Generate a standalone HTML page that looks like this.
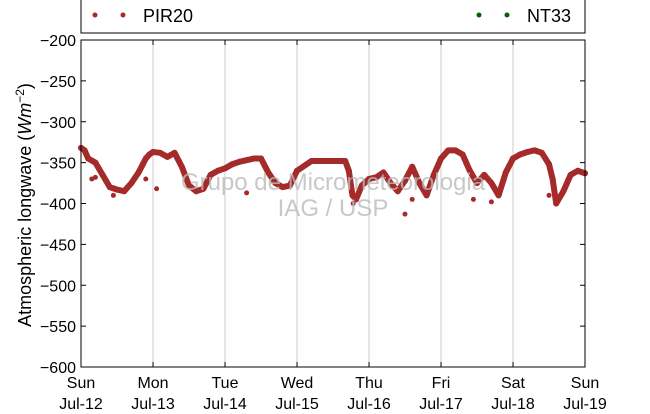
<!DOCTYPE html>
<html><head><meta charset="utf-8"><style>
body{margin:0;background:#fff;}
svg text{font-family:"Liberation Sans","DejaVu Sans",sans-serif;}
</style></head><body>
<svg id="chart" width="650" height="409" viewBox="0 0 650 409" xmlns="http://www.w3.org/2000/svg">
<g id="grid"></g>
<g id="series"></g>
<g fill="#bbb" opacity="0.8" font-size="24" text-anchor="middle">
<text x="333" y="190">Grupo de Micrometeorologia</text>
<text x="333" y="216">IAG / USP</text>
</g>
<rect x="81" y="40" width="504" height="327" fill="none" stroke="#000" stroke-width="1"/>
<g id="yticks"></g>
<g id="xticks"></g>
<text transform="translate(31,205) rotate(-90)" text-anchor="middle" font-size="18">Atmospheric longwave (<tspan font-style="italic">Wm</tspan><tspan font-size="12" dy="-7">−2</tspan><tspan dy="7">)</tspan></text>
<g>
<rect x="81" y="-5" width="504" height="38" fill="#fff" stroke="#000"/>
<g><circle cx="95" cy="15" r="2.5" fill="#a52a2a"/><circle cx="123" cy="15" r="2.5" fill="#a52a2a"/><text x="143" y="22" font-size="18">PIR20</text></g>
<g><circle cx="479" cy="15" r="2.5" fill="#006400"/><circle cx="507" cy="15" r="2.5" fill="#006400"/><text x="527" y="22" font-size="18">NT33</text></g>
</g>
</svg>
<script>
const times=[0,0.05,0.1,0.2,0.3,0.4,0.5,0.6,0.7,0.8,0.9,0.95,1.0,1.1,1.2,1.3,1.4,1.5,1.6,1.7,1.8,1.9,2.0,2.1,2.2,2.3,2.4,2.5,2.6,2.7,2.8,2.9,3.0,3.2,3.4,3.6,3.67,3.72,3.77,3.82,3.9,4.0,4.1,4.2,4.3,4.4,4.5,4.6,4.7,4.8,4.9,5.0,5.05,5.1,5.2,5.3,5.35,5.4,5.5,5.6,5.7,5.8,5.9,6.0,6.1,6.2,6.3,6.4,6.5,6.55,6.6,6.7,6.8,6.9,7.0];
const values=[-332,-335,-345,-350,-365,-380,-383,-385,-375,-362,-345,-340,-337,-338,-343,-338,-355,-378,-385,-382,-365,-360,-357,-352,-349,-347,-345,-345,-362,-375,-380,-378,-360,-348,-348,-348,-348,-360,-390,-395,-378,-370,-368,-362,-375,-385,-372,-355,-375,-390,-365,-345,-340,-335,-335,-340,-350,-360,-375,-365,-375,-390,-362,-345,-340,-337,-335,-338,-352,-370,-400,-385,-365,-360,-363];
const outlierTimes=[0.15,0.2,0.45,0.9,1.05,2.3,3.78,4.5,4.6,5.45,5.7,6.5,6.62];
const outlierValues=[-370,-368,-390,-370,-382,-387,-400,-413,-395,-395,-398,-390,-398];
const yTicks=[-200,-250,-300,-350,-400,-450,-500,-550,-600];
const dayLabels=["Sun","Mon","Tue","Wed","Thu","Fri","Sat","Sun"];
const dateLabels=["Jul-12","Jul-13","Jul-14","Jul-15","Jul-16","Jul-17","Jul-18","Jul-19"];
const NS="http://www.w3.org/2000/svg";
const X=d=>81+d*72;
const Y=v=>40+(-200-v)/400*327;
const grid=document.getElementById('grid'),ser=document.getElementById('series'),yt=document.getElementById('yticks'),xt=document.getElementById('xticks');
function mk(tag,attrs,parent){const e=document.createElementNS(NS,tag);for(const k in attrs)e.setAttribute(k,attrs[k]);parent.appendChild(e);return e;}
dayLabels.forEach((d,i)=>{
 const x=X(i);
 if(i>0&&i<7){const g=mk('line',{x1:x,x2:x,y1:40,y2:367,stroke:'#ccc','stroke-width':1},grid);
 
 }
 const t=mk('text',{x:x,y:388,'text-anchor':'middle','font-size':16},xt);t.textContent=d;
 
 
 const t2=mk('text',{x:x,y:409,'text-anchor':'middle','font-size':16},xt);t2.textContent=dateLabels[i];
 
 
 mk('line',{x1:x,x2:x,y1:367,y2:362,stroke:'#000'},xt);
 mk('line',{x1:x,x2:x,y1:40,y2:45,stroke:'#000'},xt);
});
yTicks.forEach(v=>{
 const y=Y(v);
 const t=mk('text',{x:76,y:y+6,'text-anchor':'end','font-size':16},yt);t.textContent=String(v).replace('-','−');
 
 
 mk('line',{x1:81,x2:86,y1:y,y2:y,stroke:'#000'},yt);
 mk('line',{x1:580,x2:585,y1:y,y2:y,stroke:'#000'},yt);
});
const pts=times.map((t,i)=>X(t)+','+Y(values[i])).join(' ');
const pl=mk('polyline',{points:pts,fill:'none',stroke:'#a52a2a','stroke-width':6,'stroke-linejoin':'round','stroke-linecap':'round'},ser);


times.forEach((t,i)=>{const c=mk('circle',{cx:X(t),cy:Y(values[i]),r:3,fill:'#a52a2a'},ser);
 
 });
outlierTimes.forEach((t,i)=>{const c=mk('circle',{cx:X(t),cy:Y(outlierValues[i]),r:2.5,fill:'#a52a2a'},ser);
 
 });
</script>
</body></html>
